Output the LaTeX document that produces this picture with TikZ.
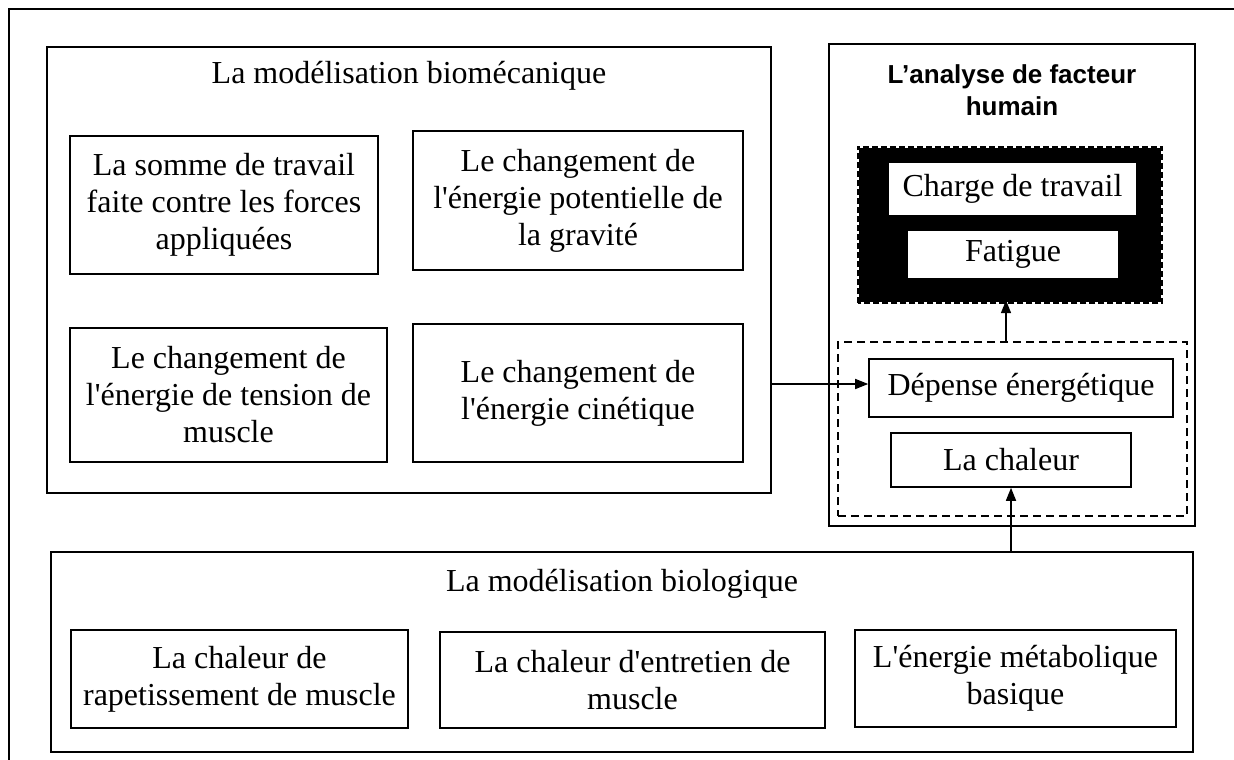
\documentclass[tikz,border=0pt]{standalone}
\usepackage{fontspec}
\setmainfont{Liberation Serif}
\newfontfamily\titlesans{Liberation Sans}
\usetikzlibrary{arrows.meta}
\newcommand{\ap}{\textquotesingle}
\tikzset{
  box/.style={draw=black, line width=1.6pt, rectangle, align=center, inner sep=0pt,
    font=\fontsize{32}{37}\selectfont},
  wbox/.style={box, fill=white},
  frame/.style={draw=black, line width=1.6pt, rectangle, inner sep=0pt},
  ttl/.style={align=center, inner sep=0pt, font=\fontsize{32}{37}\selectfont},
  arr/.style={line width=1.6pt, -{Triangle[length=13pt,width=10pt]}},
}
\begin{document}
\begin{tikzpicture}[x=1pt,y=-1pt]
\useasboundingbox (0,0) rectangle (1234,760);
\fill[white] (0,0) rectangle (1234,760);
% outer frame (left and top visible)
\draw[line width=2.6pt] (9,770) -- (9,9) -- (1244,9);

% biomechanical box
\node[frame, minimum width=724pt, minimum height=446pt] (A) at (409,270) {};
\node[ttl] (Atitle) at (409,76) {La modélisation biomécanique};
\node[box, minimum width=308pt, minimum height=138pt] (a1) at (224,205)
  {La somme de travail\\faite contre les forces\\appliquées};
\node[box, minimum width=330pt, minimum height=139pt] (a2) at (578,200.5)
  {Le changement de\\l\ap énergie potentielle de\\la gravité};
\node[box, minimum width=317pt, minimum height=134pt] (a3) at (228.5,395)
  {Le changement de\\l\ap énergie de tension de\\muscle};
\node[box, minimum width=330pt, minimum height=138pt] (a4) at (578,393)
  {Le changement de\\l\ap énergie cinétique};

% human factor box
\node[frame, minimum width=366pt, minimum height=482pt] (B) at (1012,285) {};
\node[align=center, inner sep=0pt, font=\titlesans\bfseries\fontsize{26}{32}\selectfont] (Btitle) at (1012,90)
  {L’analyse de facteur\\humain};
\node[rectangle, fill=black, inner sep=0pt, minimum width=302pt, minimum height=154pt] (blk) at (1010,225) {};
\draw[black, line width=2pt, dash pattern=on 6pt off 3pt]
  ([xshift=-1pt,yshift=-1pt]blk.south west) rectangle ([xshift=1pt,yshift=1pt]blk.north east);
\node[wbox, draw=none, minimum width=247pt, minimum height=52pt] (charge) at (1012.5,189) {Charge de travail};
\node[wbox, draw=none, minimum width=210pt, minimum height=47pt] (fat) at (1013,254.5) {Fatigue};

\node[rectangle, draw=black, line width=1.6pt, dash pattern=on 8pt off 5pt, inner sep=0pt,
  minimum width=349pt, minimum height=174pt] (dash) at (1012.5,429) {};
\node[box, minimum width=304pt, minimum height=58pt] (dep) at (1021,388) {Dépense énergétique};
\node[box, minimum width=240pt, minimum height=54pt] (chal) at (1011,460) {La chaleur};

% biological box
\node[frame, minimum width=1142pt, minimum height=200pt] (C) at (622,652) {};
\node[ttl] (Ctitle) at (622,584) {La modélisation biologique};
\node[box, minimum width=337pt, minimum height=98pt] (c1) at (239.5,679)
  {La chaleur de\\rapetissement de muscle};
\node[box, minimum width=385pt, minimum height=96pt] (c2) at (632.5,680)
  {La chaleur d\ap entretien de\\muscle};
\node[box, minimum width=321pt, minimum height=97pt] (c3) at (1015.5,678.5)
  {L\ap énergie métabolique\\basique};

% connectors
\coordinate (aOut) at (A.east |- 0,384);
\coordinate (dIn) at (dep.west |- 0,384);
\draw[arr] (aOut) -- (dIn);
\draw[arr] (dash.north -| 1006,0) -- ([yshift=2pt]blk.south -| 1006,0);
\draw[arr] (C.north -| chal.south) -- (chal.south);
\end{tikzpicture}
\end{document}
